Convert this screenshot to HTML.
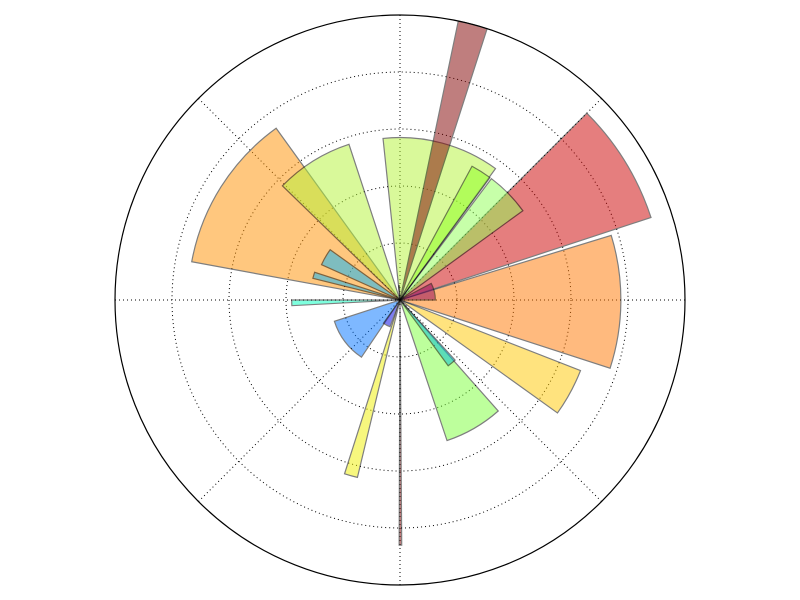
<!DOCTYPE html>
<html><head><meta charset="utf-8"><style>
html,body{margin:0;padding:0;background:#fff;}
svg{display:block;}
</style></head><body>
<svg id="chart" width="800" height="600" xmlns="http://www.w3.org/2000/svg">
<g id="grid"></g>
<g id="bars"></g>
<circle cx="400" cy="300" r="285" fill="none" stroke="#000" stroke-width="1.2"/>
</svg>
<script>
const thetaDeg = [31.6, 147.7, 122, 75, 44.5, 57.7, -0.5, -28.5, -60, -50.6, -89.9, -105.6, 217, 242, 181.5, 150, 164, 14, 94, 75.2];
const radii    = [9.27, 7.43, 5.75, 5.7, 5.33, 5.33, 7.75, 6.8, 5.2, 2.86, 8.6, 6.4, 2.42, 1.0, 3.8, 3.02, 3.15, 1.24, 0.5, 10];
const widthDeg = [26.8, 43.8, 27.7, 42, 17, 8, 35, 14.3, 23, 6.3, 0.6, 4.2, 38, 15, 3, 11.5, 4, 28, 3, 6];
const colors   = ['#cd0000','#ff9100','#b4f537','#b4f537','#91ff55','#8cff1e','#ff7800','#ffc800','#7dff3c','#00bed2','#800000','#f0f000','#0073ff','#0000e1','#00ffbe','#00b4ff','#00b4ff','#8c005a','#0000c8','#800000'];
const ringValues = [2, 4, 6, 8];
const rMax = 10;

const cx = 400, cy = 300, R = 285;
const rs = v => v / rMax * R;
const pt = (r, deg) => [cx + r * Math.cos(deg * Math.PI / 180), cy - r * Math.sin(deg * Math.PI / 180)];
const NS = 'http://www.w3.org/2000/svg';
const grid = document.getElementById('grid');
ringValues.forEach(v => {
  const c = document.createElementNS(NS, 'circle');
  c.setAttribute('cx', cx); c.setAttribute('cy', cy); c.setAttribute('r', rs(v));
  c.setAttribute('fill', 'none'); c.setAttribute('stroke', '#000'); c.setAttribute('stroke-width', '1');
  c.setAttribute('stroke-dasharray', '1,3');
  
  
  grid.appendChild(c);
});
for (let a = 0; a < 360; a += 45) {
  const [x, y] = pt(R, a);
  const l = document.createElementNS(NS, 'line');
  l.setAttribute('x1', cx); l.setAttribute('y1', cy); l.setAttribute('x2', x); l.setAttribute('y2', y);
  l.setAttribute('stroke', '#000'); l.setAttribute('stroke-width', '1'); l.setAttribute('stroke-dasharray', '1,3');
  
  
  grid.appendChild(l);
}
const bars = document.getElementById('bars');
thetaDeg.forEach((t, i) => {
  const r = rs(radii[i]);
  const a1 = t - widthDeg[i] / 2, a2 = t + widthDeg[i] / 2;
  const [x1, y1] = pt(r, a1), [x2, y2] = pt(r, a2);
  const large = widthDeg[i] > 180 ? 1 : 0;
  const p = document.createElementNS(NS, 'path');
  p.setAttribute('d', `M${cx},${cy} L${x1},${y1} A${r},${r} 0 ${large} 0 ${x2},${y2} Z`);
  p.setAttribute('fill', colors[i]);
  p.setAttribute('stroke', '#000');
  p.setAttribute('stroke-width', '1.2');
  p.setAttribute('opacity', '0.5');
  
  
  bars.appendChild(p);
});
</script>
</body></html>
